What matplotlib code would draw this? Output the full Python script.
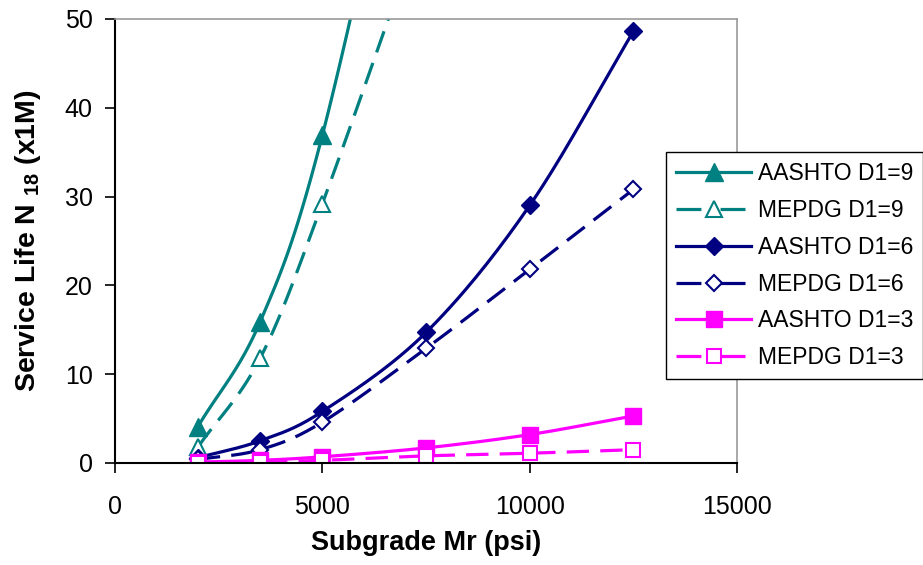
import numpy as np
import matplotlib
matplotlib.use("Agg")
import matplotlib.pyplot as plt
from matplotlib.lines import Line2D
from matplotlib import font_manager

mr = [2000, 3500, 5000, 7500, 10000, 12500]
aashto9 = [4.1, 15.9, 36.9, 88.0]
mepdg9 = [1.8, 11.8, 29.2, 62.0]
aashto6 = [0.6, 2.5, 5.8, 14.7, 29.0, 48.6]
mepdg6 = [0.4, 1.5, 4.6, 12.9, 21.8, 30.8]
aashto3 = [0.1, 0.3, 0.7, 1.7, 3.2, 5.3]
mepdg3 = [0.05, 0.15, 0.3, 0.8, 1.1, 1.5]
labels = ["AASHTO D1=9", "MEPDG D1=9", "AASHTO D1=6", "MEPDG D1=6",
          "AASHTO D1=3", "MEPDG D1=3"]

names = {f.name for f in font_manager.fontManager.ttflist}
base = "Liberation Sans" if "Liberation Sans" in names else "DejaVu Sans"
plt.rcParams['font.family'] = [base, 'DejaVu Sans']
plt.rcParams['mathtext.fontset'] = 'custom'
plt.rcParams['mathtext.rm'] = base + ':bold'
plt.rcParams['mathtext.bf'] = base + ':bold'


def smooth(x, y, n=30):
    # Catmull-Rom style smoothing (like Excel's smoothed line)
    x = np.asarray(x, float)
    y = np.asarray(y, float)
    px = np.concatenate([[2 * x[0] - x[1]], x, [2 * x[-1] - x[-2]]])
    py = np.concatenate([[2 * y[0] - y[1]], y, [2 * y[-1] - y[-2]]])
    xs, ys = [], []
    t = np.linspace(0, 1, n)
    for i in range(1, len(px) - 2):
        p0, p1, p2, p3 = (np.array([px[j], py[j]]) for j in (i - 1, i, i + 1, i + 2))
        c1 = p1 + (p2 - p0) / 6
        c2 = p2 - (p3 - p1) / 6
        pts = ((1 - t) ** 3)[:, None] * p1 + (3 * (1 - t) ** 2 * t)[:, None] * c1 \
            + (3 * (1 - t) * t ** 2)[:, None] * c2 + (t ** 3)[:, None] * p2
        xs.extend(pts[:, 0])
        ys.extend(pts[:, 1])
    return np.array(xs), np.array(ys)


fig = plt.figure(figsize=(9.23, 5.65), dpi=100)
ax = fig.add_axes([115 / 923, 1 - 463 / 565, (737 - 115) / 923, (463 - 19) / 565])

teal, navy, mag = "#008080", "#000080", "#FF00FF"
series = [
    (aashto9, teal, '-', '^', True),
    (mepdg9, teal, '--', '^', False),
    (aashto6, navy, '-', 'D', True),
    (mepdg6, navy, '--', 'D', False),
    (aashto3, mag, '-', 's', True),
    (mepdg3, mag, '--', 's', False),
]
msz_f = {'^': 12.5, 'D': 9, 's': 11}
msz_o = {'^': 11, 'D': 8, 's': 10}
DASH = (7, 3.5)
handles = []
for (vals, c, ls, m, filled), lab in zip(series, labels):
    xv = mr[:len(vals)]
    sx, sy = smooth(xv, vals)
    kw = dict(color=c, lw=2.3, solid_capstyle='butt', dash_capstyle='butt')
    if ls == '--':
        kw['dashes'] = DASH
    ax.plot(sx, sy, **kw)
    ms = msz_f[m] if filled else msz_o[m]
    mk = dict(marker=m, ms=ms, mec=c, mew=1.0 if filled else 1.5,
              mfc=c if filled else 'white')
    ax.plot(xv, vals, ls='none', **mk)
    h = Line2D([], [], color=c, lw=2.3, dash_capstyle='butt', **mk)
    if ls == '--':
        h.set_dashes((7.8, 6.0))
    handles.append(h)

ax.set_xlim(0, 15000)
ax.set_ylim(0, 50)
ax.set_xticks([0, 5000, 10000, 15000])
ax.set_yticks(range(0, 51, 10))
ax.tick_params(direction='out', length=7, width=1.2, color='black', labelsize=18)
ax.tick_params(axis='x', pad=16)
ax.tick_params(axis='y', pad=9)
for s in ['left', 'bottom']:
    ax.spines[s].set_color('black')
    ax.spines[s].set_linewidth(1.5)
for s in ['top', 'right']:
    ax.spines[s].set_color('#999999')
    ax.spines[s].set_linewidth(1.2)

ax.set_xlabel("Subgrade Mr (psi)", fontsize=19.5, fontweight='bold', labelpad=8)
ax.set_ylabel(r"Service Life N $_{18}$ (x1M)", fontsize=20.5, fontweight='bold', labelpad=16)

leg = fig.legend(handles=handles, labels=labels, loc='upper left',
                 bbox_to_anchor=(666 / 923, 1 - 152 / 565), fontsize=16.5,
                 frameon=True, fancybox=False, edgecolor='black', framealpha=1,
                 handlelength=3.25, borderpad=0.45, labelspacing=0.6,
                 handletextpad=0.3, borderaxespad=0)
leg.get_frame().set_linewidth(1.0)

fig.savefig("out.png", dpi=100)
